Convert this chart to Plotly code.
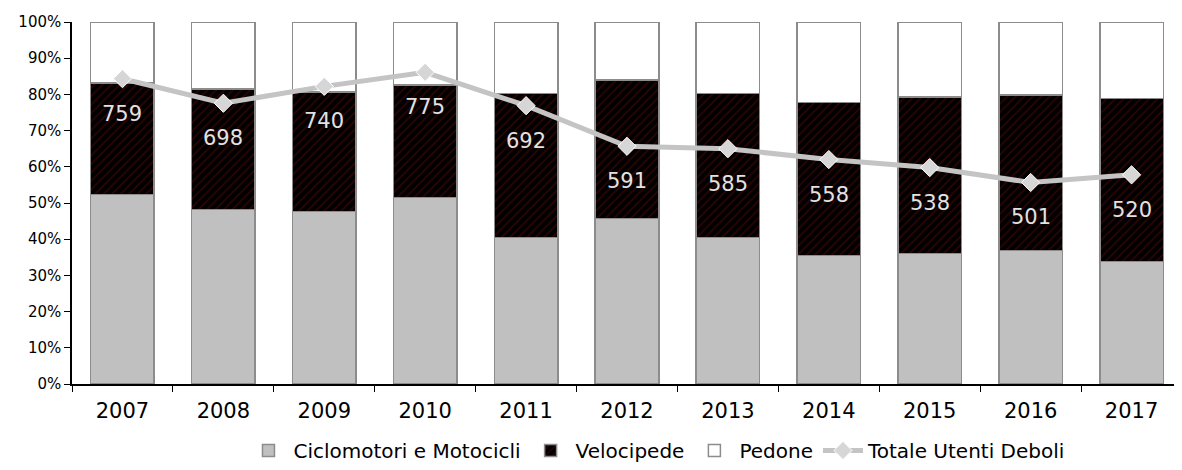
import plotly.graph_objects as go

years = ["2007", "2008", "2009", "2010", "2011", "2012", "2013", "2014", "2015", "2016", "2017"]
ciclomotori = [52.3, 48.2, 47.7, 51.5, 40.5, 45.7, 40.5, 35.5, 36.1, 36.9, 33.9]
velocipede = [30.9, 33.3, 33.0, 31.1, 39.7, 38.3, 39.7, 42.2, 43.2, 43.0, 44.9]
pedone = [16.8, 18.5, 19.3, 17.4, 19.8, 16.0, 19.8, 22.3, 20.7, 20.1, 21.2]
totale = [759, 698, 740, 775, 692, 591, 585, 558, 538, 501, 520]

FONT = "DejaVu Sans"

fig = go.Figure()

fig.add_trace(go.Bar(
    x=years, y=ciclomotori, name="Ciclomotori e Motocicli",
    marker=dict(color="#c0c0c0", line=dict(color="#8c8c8c", width=1.5)),
))
fig.add_trace(go.Bar(
    x=years, y=velocipede, name="Velocipede",
    marker=dict(color="black", line=dict(color="#8c8c8c", width=1.5),
                pattern=dict(shape="/", fgcolor="#5a0808", bgcolor="black",
                             size=6, solidity=0.3)),
))
fig.add_trace(go.Bar(
    x=years, y=pedone, name="Pedone",
    marker=dict(color="white", line=dict(color="#8c8c8c", width=1.5)),
))
fig.add_trace(go.Scatter(
    x=years, y=totale, name="Totale Utenti Deboli", yaxis="y2",
    mode="lines+markers",
    line=dict(color="#c4c4c4", width=5),
    marker=dict(symbol="diamond", size=14, color="#d6d6d6",
                line=dict(color="white", width=1)),
))

# valori del totale sotto i marker (x come indice di categoria)
for i, v in enumerate(totale):
    fig.add_annotation(x=i, y=v, yref="y2", text=str(v), showarrow=False,
                       yshift=-35, font=dict(family=FONT, size=21, color="#e2e2e2"))

# the page body has an 8px margin, so the figure is made 8px smaller
fig.update_layout(
    width=1174, height=462,
    barmode="stack", bargap=0.37,
    plot_bgcolor="white", paper_bgcolor="white",
    margin=dict(l=64, r=0, t=14, b=86),
    font=dict(family=FONT, color="black"),
    showlegend=True,
    legend=dict(orientation="h", x=0.527, xanchor="center", y=-0.13, yanchor="top",
                font=dict(size=20, family=FONT), traceorder="normal",
                itemwidth=40, tracegroupgap=0),
    xaxis=dict(type="category", range=[-0.5, len(years) - 0.5], automargin=False,
               showline=True, linecolor="black", linewidth=1.5,
               ticks="outside", ticklen=6, tickcolor="black", tickson="boundaries",
               tickfont=dict(size=21, family=FONT), showgrid=False, tickangle=0,
               ticklabelstandoff=7),
    yaxis=dict(range=[0, 100], dtick=10, ticksuffix="%", showline=True, automargin=False,
               linecolor="black", linewidth=1.5, ticks="outside", ticklen=6,
               tickcolor="black", tickfont=dict(size=15, family=FONT),
               showgrid=False, zeroline=False),
    yaxis2=dict(overlaying="y", range=[0, 900], visible=False),
)

fig.write_html("out.html")
